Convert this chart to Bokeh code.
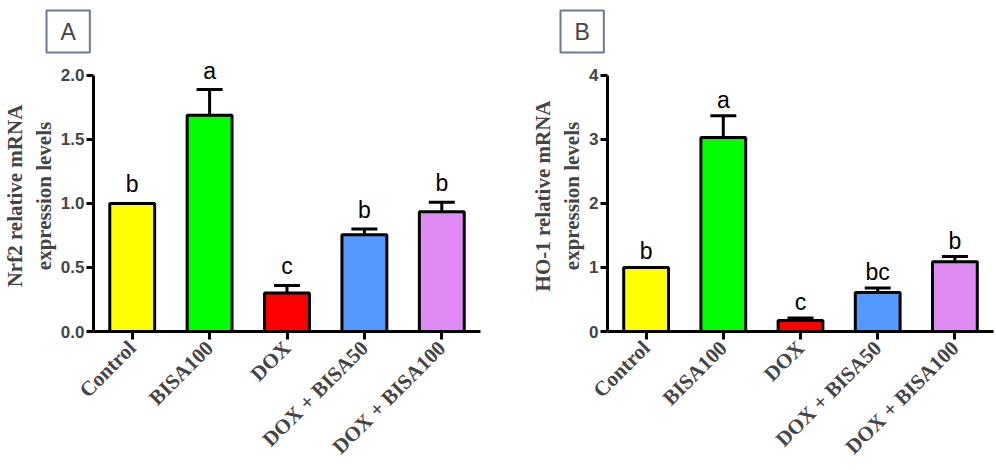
from bokeh.plotting import figure
from bokeh.layouts import row
from bokeh.models import Range1d, FixedTicker, Whisker, ColumnDataSource, TeeHead
from bokeh.core.properties import value
from bokeh.embed import file_html
from bokeh.resources import INLINE
import math

# ---- data ----
categories = ["Control", "BISA100", "DOX", "DOX + BISA50", "DOX + BISA100"]
colors = ["#FFFF00", "#00FF00", "#FF0000", "#5599FF", "#E08AF5"]

nrf2_mean = [1.00, 1.69, 0.30, 0.755, 0.935]
nrf2_sem = [0.00, 0.20, 0.06, 0.045, 0.075]
nrf2_letters = ["b", "a", "c", "b", "b"]
nrf2_ticks = [0.0, 0.5, 1.0, 1.5, 2.0]

ho1_mean = [1.00, 3.03, 0.17, 0.61, 1.09]
ho1_sem = [0.00, 0.34, 0.04, 0.07, 0.08]
ho1_letters = ["b", "a", "c", "bc", "b"]
ho1_ticks = [0, 1, 2, 3, 4]

SERIF = "Liberation Serif"
SANS = "Liberation Sans"


def panel(mean, sem, letters, ticks, ymax, ylabel, tag, width, border_left,
          border_right, tick_fmt, letter_gap):
    n = len(categories)
    xs = list(range(n))
    # frame extends 15px above the top tick so letters are not clipped
    px_per_unit = 257.0 / ymax
    yend = ymax + 15.0 / px_per_unit
    p = figure(width=width, height=470, output_backend="svg", toolbar_location=None,
               x_range=Range1d(-0.5, n - 0.5), y_range=Range1d(0, yend),
               min_border_left=border_left, min_border_right=border_right,
               min_border_top=59, min_border_bottom=139)
    p.outline_line_color = None
    p.xgrid.visible = False
    p.ygrid.visible = False

    p.title.text = tag
    p.title.align = "left"
    p.title.offset = -47
    p.title.standoff = 16
    p.title.text_font = SANS
    p.title.text_font_style = "normal"
    p.title.text_font_size = "23px"
    p.title.border_line_color = "#6B7A90"
    p.title.border_line_width = 2
    p.title.background_fill_color = "white"
    p.title.padding = (14, 8)

    src = ColumnDataSource(dict(x=xs, top=mean, upper=[m + s for m, s in zip(mean, sem)],
                                color=colors, letter=letters))
    w = Whisker(source=src, base="x", upper="upper", lower="top", dimension="height",
                line_width=3, line_color="black",
                upper_head=TeeHead(size=26, line_width=3, line_color="black"),
                lower_head=None, level="underlay")
    p.add_layout(w)
    p.vbar(x="x", top="top", bottom=0, width=0.58, source=src, fill_color="color",
           line_color="black", line_width=3)
    p.text(x="x", y="upper", text="letter", source=src, text_align="center",
           text_baseline="alphabetic", y_offset=-letter_gap, text_font=value(SANS),
           text_font_size="23px", text_color="black")

    for ax in (p.xaxis[0], p.yaxis[0]):
        ax.axis_line_width = 3
        ax.axis_line_color = "black"
        ax.major_tick_line_width = 3
        ax.major_tick_line_color = "black"
        ax.major_tick_in = 0
        ax.minor_tick_line_color = None

    p.xaxis.ticker = FixedTicker(ticks=xs)
    p.xaxis.major_label_overrides = {i: c for i, c in enumerate(categories)}
    p.xaxis.major_label_orientation = math.pi / 4
    p.xaxis.major_tick_out = 8
    p.xaxis.major_label_text_font = SERIF
    p.xaxis.major_label_text_font_style = "bold"
    p.xaxis.major_label_text_font_size = "21px"
    p.xaxis.major_label_standoff = 5

    p.yaxis.bounds = (0, ymax)
    p.yaxis.ticker = FixedTicker(ticks=ticks)
    p.yaxis.major_label_overrides = {t: tick_fmt.format(t) for t in ticks}
    p.yaxis.major_tick_out = 7
    p.yaxis.major_label_text_font = SANS
    p.yaxis.major_label_text_font_style = "bold"
    p.yaxis.major_label_text_font_size = "17px"
    p.yaxis.major_label_standoff = 2
    p.yaxis.axis_label = ylabel
    p.yaxis.axis_label_text_font = SERIF
    p.yaxis.axis_label_text_font_style = "bold"
    p.yaxis.axis_label_text_font_size = "21px"
    p.yaxis.axis_label_standoff = 2
    return p


pa = panel(nrf2_mean, nrf2_sem, nrf2_letters, nrf2_ticks, 2.0,
           "Nrf2 relative mRNA\nexpression levels", "A", 498, 92, 18, "{:.1f}", 19)
pb = panel(ho1_mean, ho1_sem, ho1_letters, ho1_ticks, 4.0,
           "HO-1 relative mRNA\nexpression levels", "B", 496, 109, 1, "{:d}", 16)

layout = row(pa, pb)
open("out.html", "w").write(file_html(layout, INLINE))
